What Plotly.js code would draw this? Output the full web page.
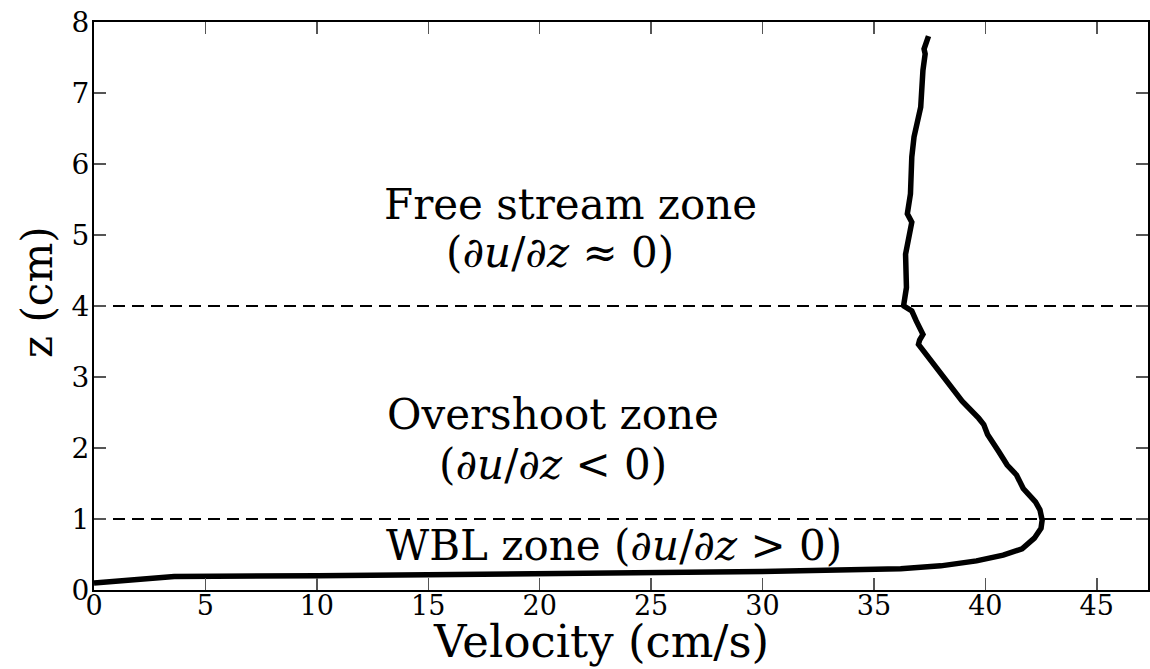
<!DOCTYPE html>
<html><head><meta charset="utf-8">
<script src="https://cdn.plot.ly/plotly-3.0.1.min.js"></script>
<style>html,body{margin:0;padding:0;background:#fff}</style>
</head><body>
<div id="chart" style="width:1150px;height:669px"></div>
<script>
const velocity = [0, 3.6, 10, 20, 30, 36.2, 38.0, 39.6, 40.8, 41.65, 42.2, 42.5, 42.55, 42.45, 42.25, 41.9, 41.7, 41.4, 40.98, 40.6, 40.1, 39.93, 39.7, 38.96, 38.3, 37.6, 37.0, 37.05, 37.2, 36.9, 36.7, 36.35, 36.34, 36.46, 36.42, 36.7, 36.5, 36.64, 36.7, 36.8, 37.1, 37.2, 37.3, 37.25, 37.4, 37.45];
const height = [0.1, 0.19, 0.2, 0.23, 0.26, 0.3, 0.34, 0.41, 0.49, 0.58, 0.73, 0.87, 0.985, 1.13, 1.24, 1.36, 1.43, 1.62, 1.76, 1.95, 2.19, 2.33, 2.42, 2.66, 2.92, 3.2, 3.46, 3.52, 3.6, 3.79, 3.93, 4.0, 4.02, 4.26, 4.73, 5.18, 5.3, 5.58, 6.1, 6.38, 6.8, 7.32, 7.55, 7.62, 7.76, 7.8];
const zoneBoundaries = [1, 4];
const xTicks = [0, 5, 10, 15, 20, 25, 30, 35, 40, 45];
const yTicks = [0, 1, 2, 3, 4, 5, 6, 7, 8];
const xRange = [0, 47.3];

const font = "DejaVu Serif, Liberation Serif, serif";

const traces = [{
  x: velocity, y: height, mode: 'lines', type: 'scatter',
  line: {color: '#000', width: 5.5}, hoverinfo: 'skip', showlegend: false
}];
zoneBoundaries.forEach(z => traces.push({
  x: xRange, y: [z, z], mode: 'lines', type: 'scatter',
  line: {color: '#000', width: 2, dash: '12px,7px'}, hoverinfo: 'skip', showlegend: false
}));

const ann = (x, y, text, size, extra) => Object.assign({
  xref: 'paper', yref: 'paper', x: x, y: y, text: text, showarrow: false,
  xanchor: 'center', yanchor: 'middle',
  font: {family: font, size: size, color: '#000'}
}, extra || {});

const W = 1150, H = 669, L = 94, R = 2, T = 22, B = 79;
const px = v => (v - L) / (W - L - R);
const py = v => (H - B - v) / (H - T - B);

const layout = {
  width: W, height: H,
  margin: {l: L, r: R, t: T, b: B},
  paper_bgcolor: '#fff', plot_bgcolor: '#fff',
  font: {family: font, color: '#000'},
  xaxis: {
    range: xRange, tickvals: xTicks, ticks: 'inside', ticklen: 12, tickcolor: '#555', tickwidth: 1.5,
    showline: true, linecolor: '#000', linewidth: 2, mirror: 'ticks', showgrid: false, zeroline: false,
    tickfont: {family: font, size: 27, color: '#000'}, ticklabelstandoff: -9
  },
  yaxis: {
    range: [0, 8], tickvals: yTicks, ticks: 'inside', ticklen: 12, tickcolor: '#555', tickwidth: 1.5,
    showline: true, linecolor: '#000', linewidth: 2, mirror: 'ticks', showgrid: false, zeroline: false,
    tickfont: {family: font, size: 28, color: '#000'}, ticklabelstandoff: -3
  },
  annotations: [
    ann(px(570), py(204), 'Free stream zone', 42),
    ann(px(560), py(252), '(<i>∂u</i>/<i>∂z</i> ≈ 0)', 42),
    ann(px(553), py(414), 'Overshoot zone', 42),
    ann(px(553), py(464), '(<i>∂u</i>/<i>∂z</i> &lt; 0)', 42),
    ann(px(614), py(545), 'WBL zone (<i>∂u</i>/<i>∂z</i> &gt; 0)', 42),
    ann(px(601), py(641), 'Velocity (cm/s)', 45),
    ann(px(37), py(292), 'z (cm)', 42, {textangle: -90})
  ]
};
Plotly.newPlot('chart', traces, layout, {displayModeBar: false, staticPlot: true});
</script>
</body></html>
